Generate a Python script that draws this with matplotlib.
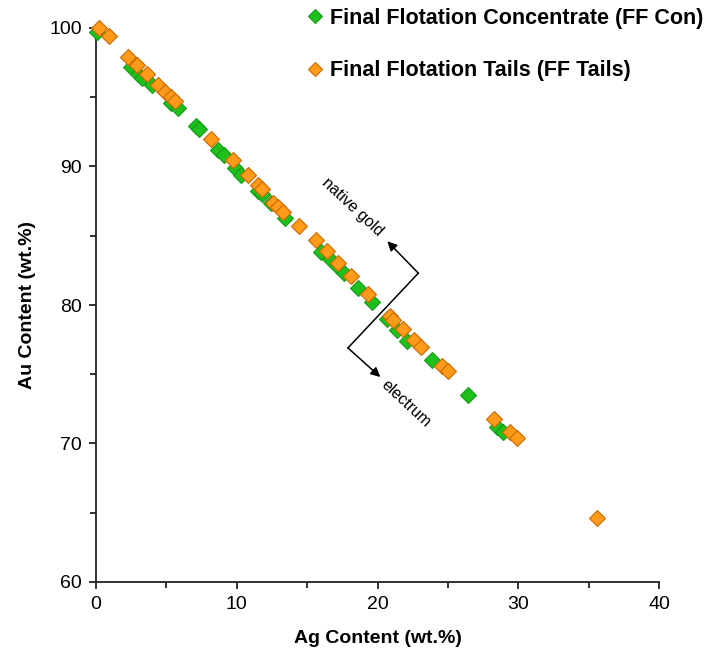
import matplotlib
matplotlib.use("Agg")
import matplotlib.pyplot as plt
from matplotlib.ticker import MultipleLocator

plt.rcParams['font.family'] = ['Liberation Sans', 'DejaVu Sans']

# Final Flotation Concentrate (FF Con)
con_ag = [0.1, 2.5, 3.0, 3.3, 4.0, 5.3, 5.8, 7.1, 7.3, 8.7, 9.1, 9.9, 10.3, 11.5, 11.8,
          12.4, 13.4, 16.0, 16.6, 17.1, 17.6, 18.6, 19.6, 20.7, 21.4, 22.1, 23.9, 26.4,
          28.5, 28.9]
con_au = [99.7, 97.2, 96.7, 96.4, 95.9, 94.6, 94.2, 92.9, 92.7, 91.2, 90.8, 89.9, 89.4,
          88.2, 88.0, 87.4, 86.3, 83.8, 83.3, 82.8, 82.3, 81.2, 80.2, 79.0, 78.2, 77.4,
          76.0, 73.5, 71.2, 70.8]

# Final Flotation Tails (FF Tails)
tails_ag = [0.2, 0.9, 2.3, 2.9, 3.6, 4.4, 4.9, 5.3, 5.6, 8.2, 9.7, 10.8, 11.5, 11.8,
            12.6, 12.9, 13.3, 14.4, 15.6, 16.4, 17.2, 18.1, 19.3, 20.9, 21.1, 21.8,
            22.6, 23.1, 24.6, 25.0, 28.3, 29.4, 29.9, 35.6]
tails_au = [100.0, 99.4, 97.9, 97.3, 96.7, 95.9, 95.4, 95.0, 94.7, 92.0, 90.5, 89.4,
            88.7, 88.4, 87.4, 87.1, 86.7, 85.7, 84.7, 83.9, 83.0, 82.1, 80.8, 79.2,
            78.9, 78.3, 77.5, 77.0, 75.6, 75.2, 71.8, 70.8, 70.4, 64.6]

labels = ['Final Flotation Concentrate (FF Con)', 'Final Flotation Tails (FF Tails)']
x_ticks = [0, 10, 20, 30, 40]
y_ticks = [60, 70, 80, 90, 100]

fig = plt.figure(figsize=(7.18, 6.53), dpi=100)
ax = fig.add_axes([96/718, 1-582/653, (659-96)/718, (582-28)/653])

green = '#1DC01D'
green_e = '#179A17'
orange = '#FF9A1A'
orange_e = '#C86A00'

ax.plot(con_ag, con_au, linestyle='none', marker='D', ms=8.5, mfc=green, mec=green_e,
        mew=0.8, label=labels[0], clip_on=False, zorder=3)
ax.plot(tails_ag, tails_au, linestyle='none', marker='D', ms=8.5, mfc=orange, mec=orange_e,
        mew=0.8, label=labels[1], clip_on=False, zorder=4)

ax.set_xlim(0, 40)
ax.set_ylim(60, 100)
ax.set_xticks(x_ticks)
ax.set_yticks(y_ticks)
ax.xaxis.set_minor_locator(MultipleLocator(5))
ax.yaxis.set_minor_locator(MultipleLocator(5))
ax.spines['top'].set_visible(False)
ax.spines['right'].set_visible(False)
for s in ('left', 'bottom'):
    ax.spines[s].set_linewidth(1.3)
    ax.spines[s].set_color('#222222')
ax.tick_params(which='both', direction='out', width=1.3, color='#222222',
               labelsize=14, pad=5)
ax.tick_params(which='major', length=5)
ax.tick_params(which='minor', length=4)

ax.set_xlabel('Ag Content (wt.%)', fontsize=14, fontweight='bold', labelpad=12)
ax.set_ylabel('Au Content (wt.%)', fontsize=14, fontweight='bold', labelpad=10)

# Annotation: boundary line with arrows
ax.plot([17.9, 22.9], [76.9, 82.3], color='black', lw=1.1, zorder=5, clip_on=False)
ax.annotate('', xy=(20.7, 84.6), xytext=(22.9, 82.3),
            arrowprops=dict(arrowstyle='-|>', color='black', lw=1.1,
                            mutation_scale=14, shrinkA=0, shrinkB=0), zorder=5)
ax.annotate('', xy=(20.2, 74.8), xytext=(17.9, 76.9),
            arrowprops=dict(arrowstyle='-|>', color='black', lw=1.1,
                            mutation_scale=14, shrinkA=0, shrinkB=0), zorder=5)
ax.text(18.2, 87.1, 'native gold', rotation=-43, fontsize=11.5, ha='center',
        va='center', rotation_mode='anchor')
ax.text(22.0, 72.9, 'electrum', rotation=-43, fontsize=11.5, ha='center',
        va='center', rotation_mode='anchor')

fig.legend(loc='upper left', bbox_to_anchor=(306/718, 0.988), frameon=False,
           prop={'weight': 'bold', 'size': 15.5}, handlelength=0.8,
           handletextpad=0.3, labelspacing=1.45, borderpad=0, markerscale=0.8,
           borderaxespad=0)

fig.savefig('out.png', dpi=100)
